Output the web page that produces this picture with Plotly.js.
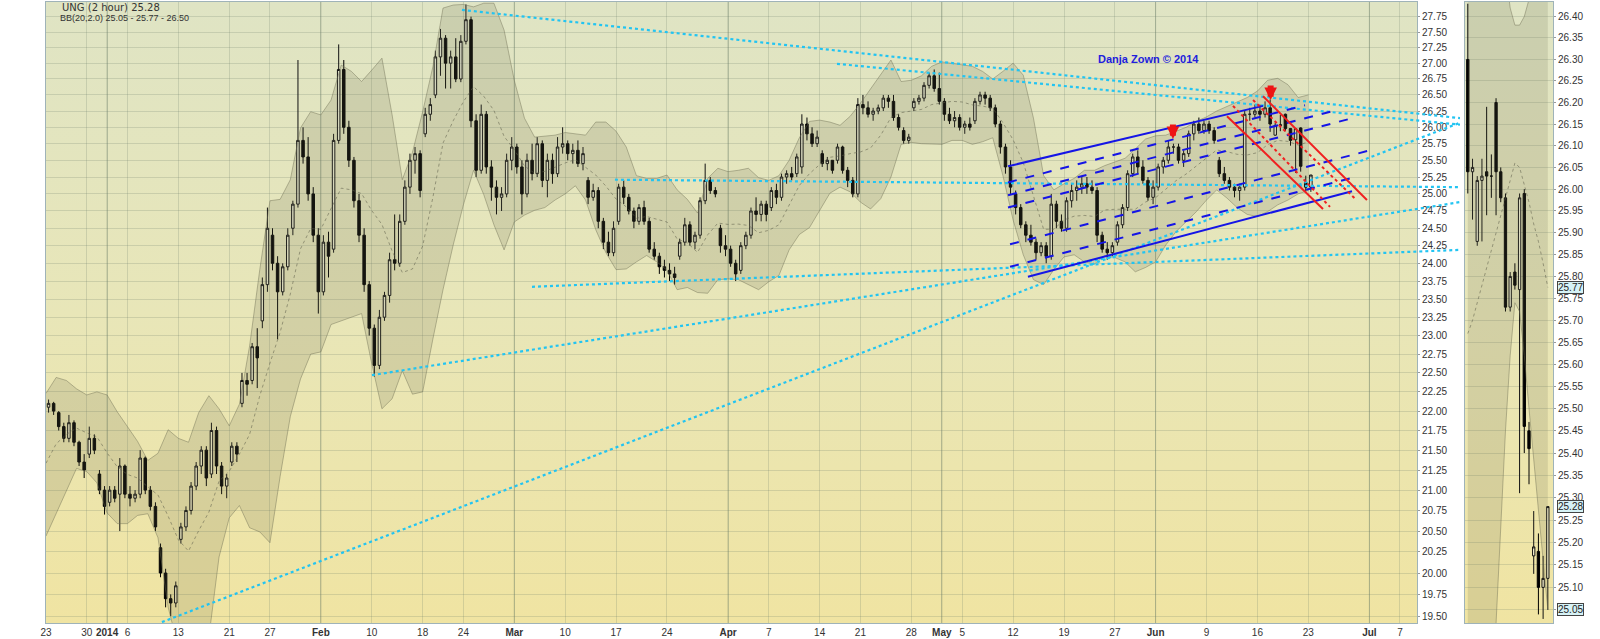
<!DOCTYPE html>
<html>
<head>
<meta charset="utf-8">
<script src="https://cdn.plot.ly/plotly-3.0.1.min.js"></script>
<style>
html,body{margin:0;padding:0;background:#ffffff;overflow:hidden;}
#wrap{position:relative;width:1600px;height:639px;}
.pbg{position:absolute;background:linear-gradient(to bottom,#dfe4c4 0%,#e8e6b8 50%,#f0e4a2 100%);}
#chart{position:absolute;left:0;top:0;width:1600px;height:639px;}
</style>
</head>
<body>
<div id="wrap"><div id="bgMain" class="pbg"></div><div id="bgSide" class="pbg"></div><div id="chart"></div></div>
<script>
// ---------------- DATA ----------------
// UNG, half-day bars, trading day index 0 = Dec 23 2013
const openP = [22.05,22.10,21.98,21.80,21.65,21.85,21.60,21.35,21.45,21.65,21.20,21.00,20.85,21.00,20.95,21.30,20.95,20.90,20.95,21.40,
21.00,20.80,20.30,20.00,19.70,19.65,20.40,20.55,20.75,21.05,21.30,21.50,21.20,21.75,21.30,21.05,21.35,21.55,22.10,22.40,
22.40,22.85,23.20,23.70,24.40,24.00,23.60,23.95,24.50,24.85,25.80,25.55,25.00,24.40,23.60,24.30,24.20,25.80,26.90,26.00,
25.50,24.90,24.40,23.70,23.10,22.60,23.25,23.55,24.05,24.00,24.60,25.10,25.50,25.60,25.90,26.20,26.50,27.10,27.40,27.00,
27.10,26.75,27.35,27.70,26.10,25.35,26.20,25.40,25.10,24.95,25.00,25.50,25.70,25.40,25.00,25.50,25.30,25.75,25.20,25.50,
25.30,25.70,25.75,25.60,25.65,25.45,25.20,24.95,25.05,24.60,24.30,24.15,24.60,25.10,24.95,24.75,24.60,24.80,24.60,24.20,
24.10,23.95,23.90,23.85,24.10,24.30,24.55,24.30,24.40,24.90,25.20,25.05,24.50,24.25,24.20,24.00,23.90,24.25,24.40,24.75,
24.70,24.85,24.80,25.05,24.95,25.25,25.30,25.30,25.40,26.05,25.90,25.75,25.60,25.45,25.50,25.50,25.70,25.35,25.20,25.00,
26.35,26.30,26.20,26.25,26.30,26.45,26.40,26.15,25.95,25.80,26.30,26.40,26.45,26.65,26.80,26.60,26.40,26.20,26.10,26.15,
26.00,26.05,26.10,26.40,26.50,26.45,26.30,26.05,25.70,25.40,25.00,24.80,24.55,24.40,24.30,24.15,24.25,24.10,24.85,24.60,
24.50,24.90,25.05,25.10,25.15,25.10,25.05,24.40,24.20,24.15,24.30,24.55,24.80,25.30,25.55,25.40,25.20,24.95,25.10,25.40,
25.50,25.70,25.70,25.50,25.60,25.90,26.05,25.95,26.05,25.95,25.50,25.30,25.20,25.10,25.05,25.10,26.20,26.20,26.25,26.20,
26.30,25.88,26.04,26.20,25.98,25.81,25.99,25.17,25.10];
const highP = [22.15,22.12,22.00,21.85,21.95,21.88,21.62,21.45,21.80,21.70,21.25,21.05,21.05,21.05,21.40,21.32,21.05,21.00,21.50,21.42,
21.05,20.85,20.35,20.05,19.75,19.90,20.60,20.80,21.10,21.35,21.55,21.55,21.85,21.80,21.35,21.20,21.60,21.60,22.50,22.50,
22.90,23.10,23.80,24.80,24.50,24.10,24.00,24.50,24.90,27.05,26.00,25.85,25.10,24.50,24.40,24.45,25.90,27.30,27.05,26.10,
25.55,25.00,24.50,23.75,23.15,23.35,23.60,24.15,24.70,24.70,25.20,25.60,25.70,25.65,26.30,26.45,27.20,27.55,27.45,27.20,
27.40,27.45,27.95,27.75,26.20,26.35,26.25,25.50,25.20,25.10,25.60,25.85,25.75,25.50,25.60,25.75,25.85,25.80,25.60,25.60,
25.85,26.00,25.80,25.75,25.80,25.70,25.25,25.15,25.10,24.65,24.45,24.60,25.15,25.20,25.00,24.80,24.85,24.90,24.65,24.30,
24.15,24.05,24.00,23.95,24.35,24.65,24.60,24.45,24.95,25.45,25.25,25.10,24.55,24.40,24.25,24.05,24.30,24.45,24.80,24.95,
24.90,24.90,25.10,25.15,25.30,25.35,25.40,25.60,26.20,26.15,26.00,25.95,25.65,25.55,25.50,25.75,25.72,25.40,25.25,26.45,
26.50,26.40,26.30,26.35,26.50,26.50,26.50,26.20,26.00,25.90,26.45,26.50,26.70,26.85,26.90,26.85,26.45,26.30,26.25,26.20,
26.10,26.15,26.45,26.55,26.55,26.50,26.35,26.10,25.75,25.50,25.05,24.85,24.60,24.55,24.35,24.30,24.30,25.00,24.90,24.70,
24.95,25.15,25.20,25.25,25.25,25.20,25.10,24.45,24.30,24.30,24.60,24.85,25.35,25.60,25.65,25.50,25.25,25.20,25.45,25.55,
25.80,25.75,25.75,25.65,25.95,26.10,26.15,26.10,26.10,26.00,25.55,25.40,25.25,25.15,25.15,26.25,26.30,26.35,26.35,26.40,
26.43,26.07,26.19,26.21,25.99,25.99,26.00,25.27,25.28];
const lowP = [21.98,21.95,21.75,21.60,21.60,21.55,21.30,21.15,21.40,21.45,20.95,20.70,20.80,20.85,20.50,20.90,20.80,20.85,20.90,20.95,
20.75,20.50,19.95,19.60,19.50,19.60,20.35,20.50,20.70,21.00,21.20,21.05,21.15,21.20,20.95,20.90,21.30,21.35,22.05,22.20,
22.35,22.30,23.10,23.60,23.90,22.95,23.55,23.90,24.40,24.80,25.45,24.90,24.30,23.30,23.55,23.80,24.15,25.75,25.90,25.40,
24.80,24.30,23.60,23.00,22.45,22.55,23.20,23.45,23.90,23.95,24.55,25.00,25.30,24.95,25.85,26.10,26.45,26.80,26.60,26.60,
26.70,26.70,27.30,26.00,25.25,25.30,25.30,24.90,24.70,24.75,24.95,25.35,25.30,24.70,24.95,25.20,25.25,25.10,24.95,25.15,
25.25,25.60,25.50,25.45,25.40,25.35,24.85,24.90,24.50,24.20,24.10,24.10,24.55,24.85,24.70,24.50,24.55,24.55,24.15,24.05,
23.85,23.80,23.75,23.70,24.05,24.25,24.25,24.20,24.35,24.85,25.00,24.95,24.15,24.10,23.95,23.75,23.85,24.20,24.35,24.60,
24.60,24.60,24.75,24.85,24.90,25.15,25.20,25.25,25.30,25.80,25.70,25.70,25.40,25.35,25.30,25.45,25.30,25.10,24.95,24.95,
26.20,26.15,26.10,26.20,26.25,26.30,26.10,25.95,25.75,25.75,26.25,26.35,26.40,26.60,26.55,26.35,26.10,26.05,26.00,25.95,
25.90,25.95,26.05,26.35,26.35,26.25,26.00,25.60,25.30,25.00,24.70,24.50,24.30,24.25,24.05,24.10,24.00,24.05,24.50,24.45,
24.45,24.80,24.90,25.00,25.00,25.00,24.30,24.15,24.05,24.10,24.25,24.50,24.75,25.25,25.30,25.15,24.90,24.85,25.05,25.30,
25.45,25.60,25.45,25.40,25.55,25.80,25.90,25.90,25.90,25.75,25.25,25.15,25.05,24.95,24.90,25.05,26.10,26.15,26.10,26.15,
25.93,25.87,25.94,25.94,25.72,25.31,25.33,25.04,25.03];
const closeP = [22.10,22.00,21.80,21.65,21.85,21.60,21.35,21.25,21.65,21.50,21.00,20.80,21.00,20.90,21.30,20.95,20.90,20.95,21.40,21.00,
20.80,20.55,20.00,19.70,19.65,19.85,20.55,20.75,21.05,21.30,21.50,21.15,21.75,21.30,21.05,21.15,21.55,21.45,22.40,22.35,
22.85,22.70,23.70,24.50,24.00,23.60,23.95,24.40,24.85,25.80,25.55,25.00,24.40,23.60,24.30,24.10,25.80,26.90,26.00,25.50,
24.90,24.40,23.70,23.10,22.60,23.25,23.55,24.05,24.00,24.60,25.10,25.50,25.60,25.05,26.20,26.35,27.10,27.40,27.00,27.10,
26.75,27.35,27.70,26.10,25.35,26.20,25.40,25.10,24.95,25.00,25.50,25.70,25.40,25.00,25.50,25.30,25.75,25.20,25.50,25.30,
25.70,25.75,25.60,25.65,25.45,25.60,24.95,25.05,24.60,24.30,24.15,24.50,25.10,24.95,24.75,24.60,24.80,24.60,24.20,24.10,
23.95,23.90,23.85,23.80,24.30,24.55,24.30,24.40,24.90,25.20,25.05,25.00,24.25,24.20,24.00,23.85,24.25,24.40,24.75,24.70,
24.85,24.70,25.05,24.95,25.25,25.30,25.25,25.55,26.05,25.90,25.75,25.85,25.45,25.50,25.35,25.70,25.35,25.20,25.00,26.35,
26.30,26.20,26.25,26.30,26.45,26.40,26.15,26.00,25.80,25.85,26.40,26.45,26.65,26.80,26.60,26.40,26.20,26.10,26.15,26.00,
26.05,26.00,26.40,26.50,26.45,26.30,26.05,25.70,25.40,25.10,24.80,24.55,24.40,24.30,24.15,24.25,24.10,24.85,24.60,24.50,
24.90,25.05,25.10,25.15,25.10,25.05,24.40,24.20,24.15,24.25,24.55,24.80,25.30,25.55,25.40,25.20,24.95,25.10,25.40,25.50,
25.70,25.70,25.50,25.60,25.90,26.05,25.95,26.05,25.95,25.80,25.30,25.20,25.10,25.05,25.10,26.20,26.20,26.25,26.20,26.30,
26.05,26.03,26.03,25.98,25.80,25.98,25.41,25.10,25.28];

// Bollinger band edges, one value per trading day
const bandUpper = [22.23,22.44,22.40,22.29,22.21,22.25,22.21,21.99,21.80,21.61,21.37,21.46,21.76,21.65,21.60,21.98,22.20,22.03,21.81,22.09,
22.86,23.91,24.90,24.92,25.21,25.99,26.24,26.19,26.42,26.97,26.87,26.71,26.89,27.08,26.19,25.21,25.62,26.24,26.94,27.89,
27.94,27.95,27.91,27.97,27.97,27.53,26.73,26.14,25.85,25.87,25.88,25.92,25.90,25.88,26.08,26.08,25.94,25.70,25.27,25.23,
25.23,25.28,25.06,24.92,24.72,25.23,25.38,25.33,25.35,25.38,25.24,25.20,25.27,25.50,25.84,26.09,26.11,26.08,26.03,26.17,
26.37,26.59,26.83,27.05,26.71,26.73,26.80,26.95,27.02,27.00,26.98,26.95,26.87,26.75,26.87,27.00,26.81,26.14,25.27,25.06,
25.15,25.23,25.35,25.35,25.42,25.47,25.53,25.67,25.82,25.87,25.88,25.94,26.00,26.09,26.16,26.25,26.32,26.38,26.46,26.56,
26.73,26.76,26.66,26.46,26.50];
const bandLower = [20.44,20.72,21.00,21.27,21.23,21.09,20.72,20.59,20.59,20.69,20.71,20.42,19.60,19.14,18.92,19.03,19.26,20.19,20.66,20.81,
20.54,20.49,20.36,21.17,21.93,22.42,22.75,22.78,23.15,23.20,23.25,23.30,22.62,22.03,22.16,22.53,22.22,22.25,22.95,23.63,
24.26,24.84,25.35,24.99,24.55,24.19,24.59,24.69,24.76,24.80,24.91,25.00,25.12,24.91,24.48,24.15,23.91,23.92,24.02,24.11,
24.02,23.90,23.63,23.66,23.59,23.58,23.77,23.78,23.77,23.70,23.63,23.74,23.83,24.19,24.41,24.51,24.76,25.01,25.10,25.03,
24.88,24.78,24.93,25.25,25.74,25.77,25.75,25.75,25.74,25.80,25.80,25.74,25.78,25.84,25.27,24.62,24.12,23.77,23.70,23.91,
24.09,24.12,24.02,23.99,24.11,24.08,24.02,23.88,23.94,24.02,24.26,24.45,24.59,24.74,24.91,25.06,24.94,24.80,24.70,24.67,
24.74,24.84,24.91,25.00,25.05];

// Zoom panel: last 18 two-hour bars
const zOpen  = [26.30,26.04,25.88,26.02,26.04,26.03,26.20,26.04,25.98,25.73,25.81,25.77,25.99,25.45,25.17,25.18,25.10,25.12];
const zHigh  = [26.43,26.07,26.03,26.07,26.19,26.08,26.21,26.05,25.99,25.81,25.83,25.99,26.00,25.47,25.27,25.22,25.17,25.28];
const zLow   = [25.99,25.93,25.87,25.88,25.94,25.98,25.94,25.97,25.72,25.72,25.77,25.31,25.40,25.33,25.13,25.04,25.03,25.05];
const zClose = [26.04,26.05,26.02,26.03,26.03,26.03,26.04,25.98,25.73,25.80,25.78,25.98,25.46,25.41,25.19,25.10,25.12,25.28];
const zUpper = [26.74,26.75,26.78,26.81,26.79,26.77,26.78,26.63,26.51,26.42,26.38,26.38,26.40,26.44,26.46,26.49,26.50,26.50];
const zLower = [24.60,24.65,24.70,24.75,24.85,24.95,25.02,25.25,25.45,25.62,25.74,25.72,25.62,25.50,25.38,25.27,25.16,25.05];

// Axis ticks
const mainTicks = [19.50,19.75,20.00,20.25,20.50,20.75,21.00,21.25,21.50,21.75,22.00,22.25,22.50,22.75,23.00,23.25,23.50,23.75,
24.00,24.25,24.50,24.75,25.00,25.25,25.50,25.75,26.00,26.25,26.50,26.75,27.00,27.25,27.50,27.75];
const sideTicks = [25.05,25.10,25.15,25.20,25.25,25.30,25.35,25.40,25.45,25.50,25.55,25.60,25.65,25.70,25.75,25.80,25.85,25.90,
25.95,26.00,26.05,26.10,26.15,26.20,26.25,26.30,26.35,26.40];
const xTickDays = [0,4,6,8,13,18,22,27,32,37,41,46,51,56,61,67,71,76,80,85,88,90,95,100,105,109,114,119,124,130,133];
const xTickText = ['23','30','2014','6','13','21','27','Feb','10','18','24','Mar','10','17','24','Apr','7','14','21','28','May','5','12','19','27','Jun','9','16','23','Jul','7'];
const majorTicks = ['2014','Feb','Mar','Apr','May','Jun','Jul'];

// Drawn trend lines (trading day, price)
const cyanX0 = [40.86,77.70,55.89,47.74,32.02,11.39];
const cyanP0 = [27.86,26.99,25.21,23.67,22.47,19.43];
const cyanX1 = [138.9,138.9,138.9,138.9,138.9,138.9];
const cyanP1 = [26.14,26.04,25.10,24.19,24.88,26.07];
const blueX0 = [94.50,96.46];
const blueP0 = [25.41,23.81];
const blueX1 = [119.55,128.29];
const blueP1 = [26.33,25.04];
const dashX0 = [94.50,94.50,94.50,94.70,94.70];
const dashP0 = [25.17,24.98,24.80,24.27,23.95];
const dashX1 = [123.67,126.42,128.09,130.06,128.09];
const dashP1 = [26.34,26.25,26.13,25.65,25.23];
const redX0 = [116.01,119.55];
const redP0 = [26.17,26.48];
const redX1 = [125.44,129.76];
const redP1 = [24.78,24.91];
const redDotX0 = [116.60,118.57];
const redDotP0 = [26.33,26.42];
const redDotX1 = [126.13,128.59];
const redDotP1 = [24.81,24.93];
const arrowDay = [110.7,120.3];
const arrowPrice = [25.82,26.42];
const signature = 'Danja Zown © 2014';

// ---------------- LAYOUT GEOMETRY ----------------
const W = 1600, H = 639;
const mainBox = {x0:46, x1:1417, y0:2, y1:623};
const sideBox = {x0:1465, x1:1553, y0:2, y1:623};
const lineBoxX1 = 1460;
function place(id,b){const e=document.getElementById(id);e.style.left=b.x0+'px';e.style.top=b.y0+'px';e.style.width=(b.x1-b.x0)+'px';e.style.height=(b.y1-b.y0)+'px';}
place('bgMain',mainBox); place('bgSide',sideBox);
const yDom = [1-mainBox.y1/H, 1-mainBox.y0/H];
const pxPerDay = 10.18;
const mainXRange = [0,(mainBox.x1-mainBox.x0)/pxPerDay];
const lineXRange = [0,(lineBoxX1-mainBox.x0)/pxPerDay];
const mainYRange = [Math.log10(19.42), Math.log10(27.99)];
const sideYRange = [Math.log10(25.021), Math.log10(26.434)];

const barX = openP.map((_,i)=>Math.floor(i/2)+(i%2?0.75:0.25));
const bandX = bandUpper.map((_,i)=>i);
const bandMid = bandUpper.map((u,i)=>(u+bandLower[i])/2);
const zX = zOpen.map((_,i)=>i);
const zMid = zUpper.map((u,i)=>(u+zLower[i])/2);

const bandLine = {color:'rgba(110,110,85,0.45)', width:1};
const bandFill = 'rgba(110,110,85,0.18)';
const midLine = {color:'rgba(95,95,75,0.55)', width:1, dash:'dot'};

function segs(x0,y0,x1,y1){const X=[],Y=[];for(let i=0;i<x0.length;i++){X.push(x0[i],x1[i],null);Y.push(y0[i],y1[i],null);}return {x:X,y:Y};}

const traces = [];
traces.push({type:'scatter',mode:'lines',x:bandX,y:bandLower,line:bandLine,xaxis:'x',yaxis:'y',hoverinfo:'skip'});
traces.push({type:'scatter',mode:'lines',x:bandX,y:bandUpper,line:bandLine,fill:'tonexty',fillcolor:bandFill,xaxis:'x',yaxis:'y',hoverinfo:'skip'});
traces.push({type:'scatter',mode:'lines',x:bandX,y:bandMid,line:midLine,xaxis:'x',yaxis:'y',hoverinfo:'skip'});
traces.push({type:'candlestick',x:barX,open:openP,high:highP,low:lowP,close:closeP,xaxis:'x',yaxis:'y',
  increasing:{line:{color:'#111',width:1},fillcolor:'rgba(255,255,255,0.35)'},
  decreasing:{line:{color:'#000',width:1},fillcolor:'#000'},whiskerwidth:0,hoverinfo:'skip'});

// trend lines (on an overlay subplot that reaches across the price labels)
let s = segs(cyanX0,cyanP0,cyanX1,cyanP1);
traces.push({type:'scatter',mode:'lines',x:s.x,y:s.y,line:{color:'#22c4f2',width:2.2,dash:'dot'},xaxis:'x3',yaxis:'y3',hoverinfo:'skip'});
s = segs(dashX0,dashP0,dashX1,dashP1);
traces.push({type:'scatter',mode:'lines',x:s.x,y:s.y,line:{color:'#1515e6',width:2,dash:'dash'},xaxis:'x3',yaxis:'y3',hoverinfo:'skip'});
s = segs(blueX0,blueP0,blueX1,blueP1);
traces.push({type:'scatter',mode:'lines',x:s.x,y:s.y,line:{color:'#1515e6',width:2},xaxis:'x3',yaxis:'y3',hoverinfo:'skip'});
s = segs(redDotX0,redDotP0,redDotX1,redDotP1);
traces.push({type:'scatter',mode:'lines',x:s.x,y:s.y,line:{color:'#f02020',width:2,dash:'dot'},xaxis:'x3',yaxis:'y3',hoverinfo:'skip'});
s = segs(redX0,redP0,redX1,redP1);
traces.push({type:'scatter',mode:'lines',x:s.x,y:s.y,line:{color:'#f02020',width:2},xaxis:'x3',yaxis:'y3',hoverinfo:'skip'});

// zoom panel
traces.push({type:'scatter',mode:'lines',x:zX,y:zLower,line:bandLine,xaxis:'x2',yaxis:'y2',hoverinfo:'skip'});
traces.push({type:'scatter',mode:'lines',x:zX,y:zUpper,line:bandLine,fill:'tonexty',fillcolor:bandFill,xaxis:'x2',yaxis:'y2',hoverinfo:'skip'});
traces.push({type:'scatter',mode:'lines',x:zX,y:zMid,line:midLine,xaxis:'x2',yaxis:'y2',hoverinfo:'skip'});
traces.push({type:'candlestick',x:zX,open:zOpen,high:zHigh,low:zLow,close:zClose,xaxis:'x2',yaxis:'y2',
  increasing:{line:{color:'#111',width:1},fillcolor:'rgba(255,255,240,0.6)'},
  decreasing:{line:{color:'#000',width:1},fillcolor:'#000'},whiskerwidth:0,hoverinfo:'skip'});

const tickFont = {family:'Liberation Sans, Arial, sans-serif', size:10, color:'#333'};
const gridC = 'rgba(105,125,105,0.22)';
const frameC = '#9fb3b8';

const shapes = [];
xTickDays.forEach((d,i)=>{ if(majorTicks.includes(xTickText[i])) shapes.push({type:'line',xref:'x',yref:'paper',x0:d,x1:d,y0:yDom[0],y1:yDom[1],line:{color:'rgba(95,115,95,0.38)',width:1},layer:'below'}); });

const last = closeP.length-1, lb = bandUpper.length-1;
const fmt = v=>v.toFixed(2);
const annotations = [
 {xref:'paper',yref:'paper',x:60/W,y:1-8/H,xanchor:'left',yanchor:'middle',showarrow:false,
  text:'UNG (2 hour) '+fmt(closeP[last]),font:{family:'DejaVu Sans, Verdana, sans-serif',size:10,color:'#333'}},
 {xref:'paper',yref:'paper',x:58/W,y:1-18/H,xanchor:'left',yanchor:'middle',showarrow:false,
  text:'BB(20,2.0) '+fmt(bandLower[lb])+' - '+fmt(bandMid[lb])+' - '+fmt(bandUpper[lb]),font:{family:'Liberation Sans, Arial, sans-serif',size:9,color:'#333'}},
 {xref:'paper',yref:'paper',x:1148/W,y:1-59/H,xanchor:'center',yanchor:'middle',showarrow:false,
  text:'<b>'+signature+'</b>',font:{family:'Liberation Sans, Arial, sans-serif',size:11,color:'#2020dd'}}
];
arrowDay.forEach((d,i)=>annotations.push({xref:'x',yref:'y',x:d,y:Math.log10(arrowPrice[i]),ax:0,ay:-16,showarrow:true,
  arrowhead:2,arrowsize:0.42,arrowwidth:6,arrowcolor:'#ee1414',text:'',standoff:0}));
[[zMid[zMid.length-1]],[zClose[zClose.length-1]],[zLower[zLower.length-1]]].forEach(v=>annotations.push({
  xref:'paper',yref:'y2',x:(sideBox.x1+4)/W,y:Math.log10(v[0]),xanchor:'left',yanchor:'middle',showarrow:false,
  text:fmt(v[0]),bgcolor:'#d6f2f6',bordercolor:'#444',borderwidth:1,borderpad:0,font:{family:'Liberation Sans, Arial, sans-serif',size:10,color:'#222'}}));

const layout = {
  width:W,height:H,margin:{l:0,r:0,t:0,b:0},paper_bgcolor:'rgba(0,0,0,0)',plot_bgcolor:'rgba(0,0,0,0)',showlegend:false,
  xaxis:{domain:[mainBox.x0/W,mainBox.x1/W],range:mainXRange,anchor:'y',tickvals:xTickDays,
    ticktext:xTickText.map(t=>majorTicks.includes(t)?'<b>'+t+'</b>':t),tickfont:tickFont,ticks:'',
    showgrid:true,gridcolor:gridC,showline:true,linecolor:frameC,mirror:true,zeroline:false,rangeslider:{visible:false},fixedrange:true},
  yaxis:{domain:yDom,type:'log',range:mainYRange,side:'right',anchor:'x',tickvals:mainTicks,ticktext:mainTicks.map(fmt),
    tickfont:tickFont,ticks:'outside',ticklen:2,tickcolor:'#999',showgrid:true,gridcolor:gridC,showline:true,linecolor:frameC,mirror:true,zeroline:false,fixedrange:true},
  xaxis2:{domain:[sideBox.x0/W,sideBox.x1/W],range:[-0.6,18.1],anchor:'y2',showticklabels:false,showgrid:false,showline:true,linecolor:frameC,mirror:true,zeroline:false,rangeslider:{visible:false},fixedrange:true},
  yaxis2:{domain:yDom,type:'log',range:sideYRange,side:'right',anchor:'x2',tickvals:sideTicks,ticktext:sideTicks.map(fmt),
    tickfont:tickFont,ticks:'outside',ticklen:2,tickcolor:'#999',showgrid:true,gridcolor:gridC,showline:true,linecolor:frameC,mirror:true,zeroline:false,fixedrange:true},
  xaxis3:{domain:[mainBox.x0/W,lineBoxX1/W],range:lineXRange,anchor:'y3',visible:false,fixedrange:true},
  yaxis3:{domain:yDom,type:'log',range:mainYRange,anchor:'x3',visible:false,fixedrange:true},
  shapes:shapes,annotations:annotations
};
Plotly.newPlot('chart',traces,layout,{staticPlot:true,displayModeBar:false});
</script>
</body>
</html>
